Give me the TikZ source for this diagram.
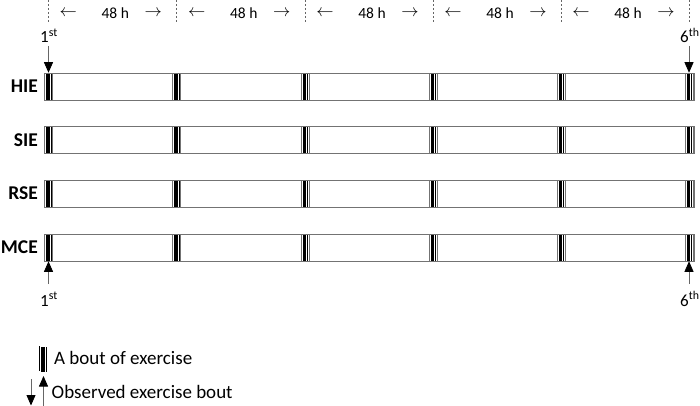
\documentclass[tikz,border=0pt]{standalone}
\usepackage{fontspec}
\setmainfont{Carlito}
\usetikzlibrary{arrows.meta,positioning}

\begin{document}
\begin{tikzpicture}[x=1pt,y=-1pt,
    row label/.style={anchor=east,font=\fontsize{19.5}{20}\selectfont\bfseries,inner sep=0pt},
    row box/.style={draw=black!55,line width=0.8pt,minimum width=649.5pt,minimum height=27pt,anchor=west,inner sep=0pt},
    bout/.style={draw=black!55,line width=0.6pt,fill=white,minimum width=8pt,minimum height=27pt,inner sep=0pt,
      path picture={
        \fill[black] ([xshift=1.6pt]path picture bounding box.south west) rectangle ([xshift=5.2pt]path picture bounding box.north west);
        \draw[black,line width=0.7pt] ([xshift=6.4pt]path picture bounding box.south west) -- ([xshift=6.4pt]path picture bounding box.north west);
      }},
    tick/.style={black!60,line width=0.5pt,dash pattern=on 2pt off 2pt},
    hours/.style={font=\fontsize{15.5}{16}\selectfont,inner sep=0pt},
    harrow/.style={font=\fontsize{18}{18}\selectfont,inner sep=0pt},
    order/.style={anchor=base,font=\fontsize{17}{18}\selectfont,inner sep=0pt},
    observed/.style={-{Triangle[width=9pt,length=10.5pt,black]},line width=0.8pt,black!60},
    legend/.style={anchor=west,font=\fontsize{19}{20}\selectfont,inner sep=0pt}]
  \useasboundingbox (0,0) rectangle (700,406);

  % time axis
  \foreach \x in {48,176.5,305,433,561,689}
    \draw[tick] (\x,0) -- (\x,22);
  \foreach \c in {112.25,240.75,369,497,625}{
    \node[harrow] at (\c-44,13) {$\leftarrow$};
    \node[hours]  at (\c+3,13) {48 h};
    \node[harrow] at (\c+41,13) {$\rightarrow$};
  }

  % groups
  \foreach \name/\lab/\y in {hie/HIE/86.5,sie/SIE/140,rse/RSE/193.5,mce/MCE/247.5}{
    \node[row label] (\name) at (38,\y) {\lab};
    \node[row box] (\name-box) at (44,\y) {};
    \foreach \x [count=\i] in {48.5,176.5,305,433,561,689}
      \node[bout] (\name-\i) at (\x,\y) {};
  }

  % observed bouts
  \node[order] (first top) at (49,42.5) {1\textsuperscript{st}};
  \node[order] (last top) at (684.5,42.5) {6\rlap{\textsuperscript{th}}};
  \node[order] (first bottom) at (49,306) {1\textsuperscript{st}};
  \node[order] (last bottom) at (684.5,306) {6\rlap{\textsuperscript{th}}};
  \coordinate (ft) at (48.5,46);
  \coordinate (lt) at (689,46);
  \coordinate (fb) at (48.5,284);
  \coordinate (lb) at (689,284);
  \draw[observed] (ft) -- (hie-1.north);
  \draw[observed] (lt) -- (hie-6.north);
  \draw[observed] (fb) -- (mce-1.south);
  \draw[observed] (lb) -- (mce-6.south);

  % legend
  \node[bout,draw=none,minimum width=9pt,minimum height=25pt] (key bout) at (44,359) {};
  \draw[black,line width=0.7pt] (key bout.north west) ++(0.6,0) -- ++(0,25);
  \node[legend] (key bout text) at (54,358) {A bout of exercise};
  \coordinate (kd) at (31,379);
  \coordinate (kd tip) at (31,405.5);
  \coordinate (ku) at (43.5,406);
  \coordinate (ku tip) at (43.5,376);
  \draw[observed] (kd) -- (kd tip);
  \draw[observed] (ku) -- (ku tip);
  \node[legend] (key mark text) at (51.5,392) {Observed exercise bout};
\end{tikzpicture}
\end{document}
